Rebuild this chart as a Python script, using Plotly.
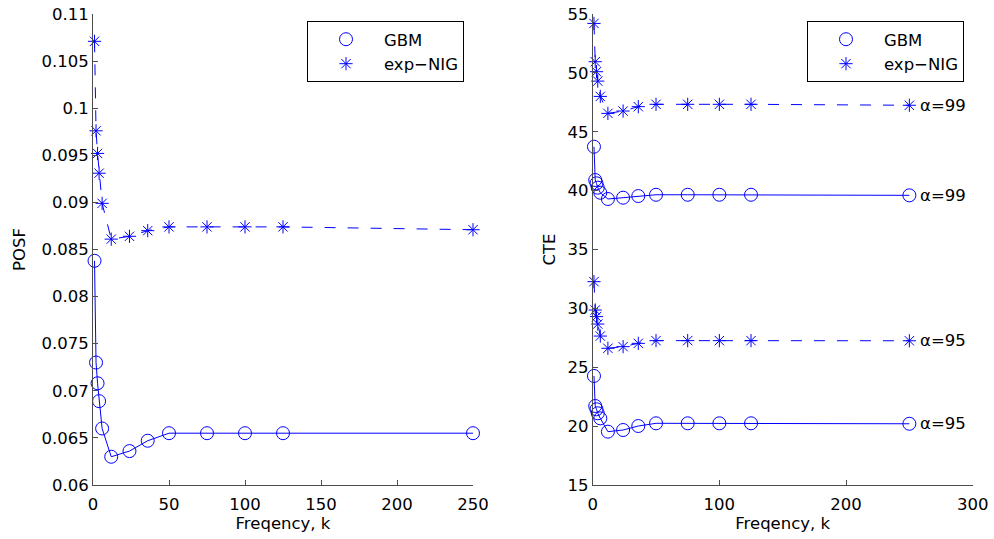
import plotly.graph_objects as go

# ---------------- data ----------------
k = [1, 2, 3, 4, 6, 12, 24, 36, 50, 75, 100, 125, 250]

posf_gbm = [0.0838, 0.0730, 0.0708, 0.0689, 0.0660, 0.0630, 0.0636, 0.0647,
            0.0655, 0.0655, 0.0655, 0.0655, 0.0655]
posf_nig = [0.1071, 0.0976, 0.0952, 0.0931, 0.0899, 0.0861, 0.0864, 0.0870,
            0.0874, 0.0874, 0.0874, 0.0874, 0.0871]

cte99_gbm = [43.73, 40.90, 40.62, 40.25, 39.82, 39.29, 39.40, 39.54,
             39.65, 39.65, 39.65, 39.65, 39.60]
cte99_nig = [54.20, 50.95, 50.10, 49.30, 48.00, 46.56, 46.76, 47.13,
             47.33, 47.33, 47.33, 47.33, 47.25]
cte95_gbm = [24.26, 21.71, 21.43, 21.09, 20.66, 19.53, 19.67, 20.01,
             20.24, 20.24, 20.24, 20.24, 20.20]
cte95_nig = [32.27, 29.86, 29.30, 28.67, 27.65, 26.61, 26.75, 27.03,
             27.26, 27.26, 27.26, 27.26, 27.25]

posf_ticks = [0.06, 0.065, 0.07, 0.075, 0.08, 0.085, 0.09, 0.095, 0.1, 0.105, 0.11]
posf_ticktext = ["0.06", "0.065", "0.07", "0.075", "0.08", "0.085", "0.09",
                 "0.095", "0.1", "0.105", "0.11"]
k_ticks_left = [0, 50, 100, 150, 200, 250]
k_ticks_right = [0, 100, 200, 300]
cte_ticks = [15, 20, 25, 30, 35, 40, 45, 50, 55]

series_names = ["GBM", "exp\u2212NIG"]
alpha_labels = ["\u03b1=99", "\u03b1=99", "\u03b1=95", "\u03b1=95"]

# ---------------- styling ----------------
BLUE = "#0000ff"
FONT = "DejaVu Sans"
FS = 16.5
AXC = "#4d4d4d"

fig = go.Figure()


def add_series(x, y, xa, ya, dash, symbol, msize, name, legend, showlegend):
    fig.add_trace(go.Scatter(
        x=x, y=y, mode="lines", xaxis=xa, yaxis=ya,
        line=dict(color=BLUE, width=1, dash=dash),
        showlegend=False, hoverinfo="skip"))
    fig.add_trace(go.Scatter(
        x=x, y=y, mode="markers", xaxis=xa, yaxis=ya, name=name,
        legend=legend, showlegend=showlegend, cliponaxis=False,
        marker=dict(symbol=symbol, size=msize, color=BLUE,
                    line=dict(color=BLUE, width=1))))


DASH = "11px,12px"
# left panel
add_series(k, posf_gbm, "x", "y", "solid", "circle-open", 13, series_names[0], "legend", True)
add_series(k, posf_nig, "x", "y", DASH, "asterisk-open", 11, series_names[1], "legend", True)
# right panel
add_series(k, cte99_gbm, "x2", "y2", "solid", "circle-open", 13, series_names[0], "legend2", True)
add_series(k, cte99_nig, "x2", "y2", DASH, "asterisk-open", 11, series_names[1], "legend2", True)
add_series(k, cte95_gbm, "x2", "y2", "solid", "circle-open", 13, series_names[0], "legend2", False)
add_series(k, cte95_nig, "x2", "y2", DASH, "asterisk-open", 11, series_names[1], "legend2", False)

# alpha labels at the right end of each CTE curve
for lab, ser in zip(alpha_labels, [cte99_nig, cte99_gbm, cte95_nig, cte95_gbm]):
    fig.add_annotation(x=257, y=ser[-1], xref="x2", yref="y2", text=lab,
                       showarrow=False, xanchor="left", yanchor="middle",
                       font=dict(family=FONT, size=FS, color="black"))

axis_common = dict(showline=True, linecolor=AXC, linewidth=1, ticks="inside",
                   ticklen=5, tickcolor=AXC, tickwidth=1, showgrid=False,
                   zeroline=False, mirror=False, automargin=False,
                   tickfont=dict(family=FONT, size=FS, color="black"))

ydom = [1 - 485 / 539, 1 - 14 / 539]
legend_common = dict(xanchor="left", yanchor="top", bordercolor="black",
                     borderwidth=1, bgcolor="white", itemwidth=66,
                     font=dict(family=FONT, size=FS))
fig.update_layout(
    width=994, height=539,
    margin=dict(l=0, r=0, t=0, b=0),
    paper_bgcolor="white", plot_bgcolor="white",
    font=dict(family=FONT, size=FS, color="black"),
    xaxis=dict(domain=[93 / 994, 473 / 994], range=[0, 250], tickvals=k_ticks_left,
               ticklabelstandoff=4,
               title=dict(text="Freqency, k", standoff=4,
                          font=dict(family=FONT, size=FS)), anchor="y", **axis_common),
    yaxis=dict(domain=ydom, range=[0.06, 0.11], tickvals=posf_ticks,
               ticktext=posf_ticktext,
               title=dict(text="POSF", standoff=11,
                          font=dict(family=FONT, size=FS)), anchor="x", **axis_common),
    xaxis2=dict(domain=[592.7 / 994, 972.7 / 994], range=[0, 300], tickvals=k_ticks_right,
                ticklabelstandoff=4,
                title=dict(text="Freqency, k", standoff=4,
                           font=dict(family=FONT, size=FS)), anchor="y2", **axis_common),
    yaxis2=dict(domain=ydom, range=[15, 55], tickvals=cte_ticks,
                title=dict(text="CTE", standoff=7,
                           font=dict(family=FONT, size=FS)), anchor="x2", **axis_common),
    legend=dict(x=307 / 994, y=1 - 21 / 539, **legend_common),
    legend2=dict(x=807 / 994, y=1 - 21 / 539, **legend_common),
)

fig.write_html("out.html")
